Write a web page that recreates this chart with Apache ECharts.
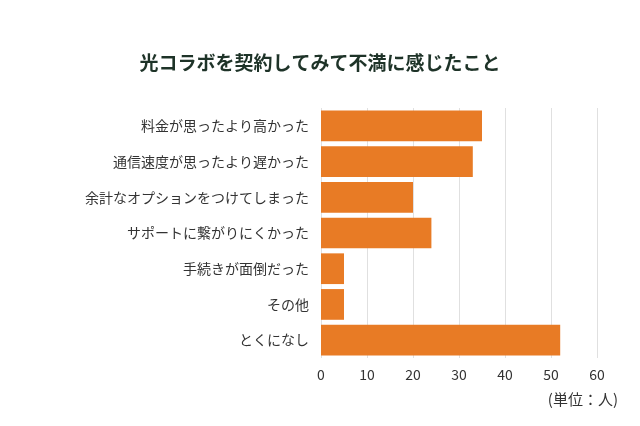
<!DOCTYPE html>
<html><head><meta charset="utf-8">
<script src="https://cdn.jsdelivr.net/npm/echarts@6/dist/echarts.min.js"></script>
<style>html,body{margin:0;background:#fff}#c{width:640px;height:426px}</style>
</head><body><div id="c"></div>
<script>
const categories = ['料金が思ったより高かった', '通信速度が思ったより遅かった', '余計なオプションをつけてしまった', 'サポートに繋がりにくかった', '手続きが面倒だった', 'その他', 'とくになし'];
const values = [35, 33, 20, 24, 5, 5, 52];

const chart = echarts.init(document.getElementById('c'));
const font = '"Noto Sans CJK JP", "Noto Sans", sans-serif';
chart.setOption({
  animation: false,
  textStyle: { fontFamily: font },
  title: {
    text: '光コラボを契約してみて不満に感じたこと',
    left: 'center', top: 48,
    textStyle: { fontSize: 19, fontWeight: 'bold', color: '#1e3328', fontFamily: font }
  },
  graphic: [{
    type: 'text', right: 22, top: 392,
    style: { text: '(単位：人)', fontSize: 15, fill: '#333', fontFamily: font }
  }],
  grid: { left: 321, right: 43, top: 108, bottom: 68 },
  xAxis: {
    type: 'value', min: 0, max: 60, interval: 10,
    axisLabel: { fontSize: 14, color: '#333', margin: 10 },
    splitLine: { lineStyle: { color: '#e0e0e0' } },
    axisLine: { show: false }, axisTick: { show: false }
  },
  yAxis: {
    type: 'category', data: categories, inverse: true,
    axisLabel: { fontSize: 14, color: '#333', margin: 12 },
    axisLine: { show: false }, axisTick: { show: false }
  },
  series: [{
    type: 'bar', data: values, barCategoryGap: '14%',
    itemStyle: { color: '#e87b25' }
  }]
});
</script></body></html>
